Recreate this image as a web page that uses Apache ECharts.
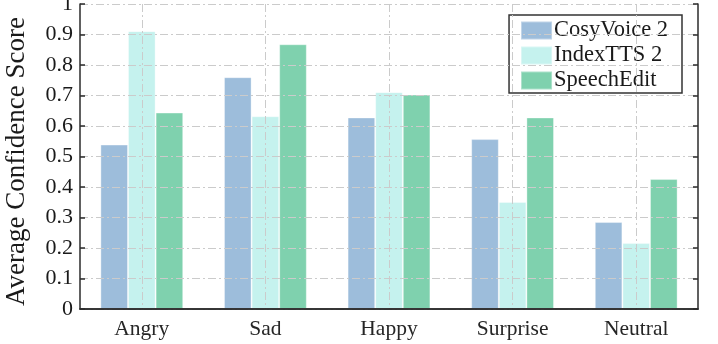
<!DOCTYPE html>
<html>
<head>
<meta charset="utf-8">
<script src="https://cdn.jsdelivr.net/npm/echarts@6/dist/echarts.min.js"></script>
<style>
  html, body { margin: 0; padding: 0; background: #fff; }
  #chart { width: 718px; height: 344px; }
</style>
</head>
<body>
<div id="chart"></div>
<script>
const categories = ['Angry', 'Sad', 'Happy', 'Surprise', 'Neutral'];
const cosyVoice = [0.539, 0.760, 0.628, 0.557, 0.285];
const indexTTS = [0.911, 0.632, 0.711, 0.351, 0.216];
const speechEdit = [0.644, 0.868, 0.703, 0.628, 0.426];
const yTicks = [0, 0.1, 0.2, 0.3, 0.4, 0.5, 0.6, 0.7, 0.8, 0.9, 1];

const FONT = '"Liberation Serif", "Times New Roman", serif';
const AXIS_COLOR = '#2b2b2b';
const GRID_LINE = { color: '#cbcbcb', width: 1, type: [8, 3, 2, 3] };

const chart = echarts.init(document.getElementById('chart'));

function barSeries(name, data, color) {
  return {
    name: name,
    type: 'bar',
    data: data,
    barGap: '0%',
    barCategoryGap: '33%',
    itemStyle: { color: color, borderColor: 'rgba(255,255,255,0.35)', borderWidth: 1 }
  };
}

const option = {
  animation: false,
  grid: { left: 80, right: 20, top: 4, bottom: 35, outerBoundsMode: 'none', containLabel: false },
  legend: {
    right: 36,
    top: 15,
    orient: 'vertical',
    icon: 'rect',
    itemWidth: 31,
    itemHeight: 18,
    itemGap: 2,
    padding: [4, 14, 1, 11],
    backgroundColor: '#fff',
    borderColor: '#333',
    borderWidth: 1.5,
    borderRadius: 0,
    textStyle: { fontFamily: FONT, fontSize: 22.5, color: '#1a1a1a', padding: [0, 0, 0, -3] },
    data: ['CosyVoice 2', 'IndexTTS 2', 'SpeechEdit']
  },
  xAxis: [
    {
      type: 'category',
      data: categories,
      z: 10,
      axisLine: { lineStyle: { color: AXIS_COLOR, width: 1.5 } },
      axisTick: { inside: true, alignWithLabel: true, length: 5, lineStyle: { color: AXIS_COLOR, width: 1.5 } },
      axisLabel: { fontFamily: FONT, fontSize: 21.5, color: '#262626', margin: 9 },
      splitLine: { show: true, alignWithLabel: true, lineStyle: GRID_LINE }
    },
    {
      type: 'category',
      data: categories,
      position: 'top',
      z: 10,
      axisLine: { lineStyle: { color: AXIS_COLOR, width: 1.5 } },
      axisTick: { inside: true, alignWithLabel: true, length: 5, lineStyle: { color: AXIS_COLOR, width: 1.5 } },
      axisLabel: { show: false },
      splitLine: { show: false }
    }
  ],
  yAxis: [
    {
      type: 'value',
      min: 0,
      max: 1,
      interval: 0.1,
      z: 10,
      name: 'Average Confidence Score',
      nameLocation: 'middle',
      nameGap: 50,
      nameTextStyle: { fontFamily: FONT, fontSize: 27, color: '#1a1a1a', padding: [0, 10, 0, 0] },
      axisLine: { show: true, lineStyle: { color: AXIS_COLOR, width: 1.5 } },
      axisTick: { show: true, inside: true, length: 5, lineStyle: { color: AXIS_COLOR, width: 1.5 } },
      axisLabel: {
        fontFamily: FONT, fontSize: 22, color: '#1a1a1a', margin: 7,
        formatter: function (v) {
          const t = yTicks.find(function (k) { return Math.abs(k - v) < 1e-9; });
          return t === undefined ? '' : String(t);
        }
      },
      splitLine: { show: true, lineStyle: GRID_LINE }
    },
    {
      type: 'value',
      min: 0,
      max: 1,
      interval: 0.1,
      position: 'right',
      z: 10,
      axisLine: { show: true, lineStyle: { color: AXIS_COLOR, width: 1.5 } },
      axisTick: { show: true, inside: true, length: 5, lineStyle: { color: AXIS_COLOR, width: 1.5 } },
      axisLabel: { show: false },
      splitLine: { show: false }
    }
  ],
  series: [
    barSeries('CosyVoice 2', cosyVoice, '#9dbddb'),
    barSeries('IndexTTS 2', indexTTS, '#c5f2ee'),
    barSeries('SpeechEdit', speechEdit, '#7fd1ae')
  ]
};

chart.setOption(option);
</script>
</body>
</html>
